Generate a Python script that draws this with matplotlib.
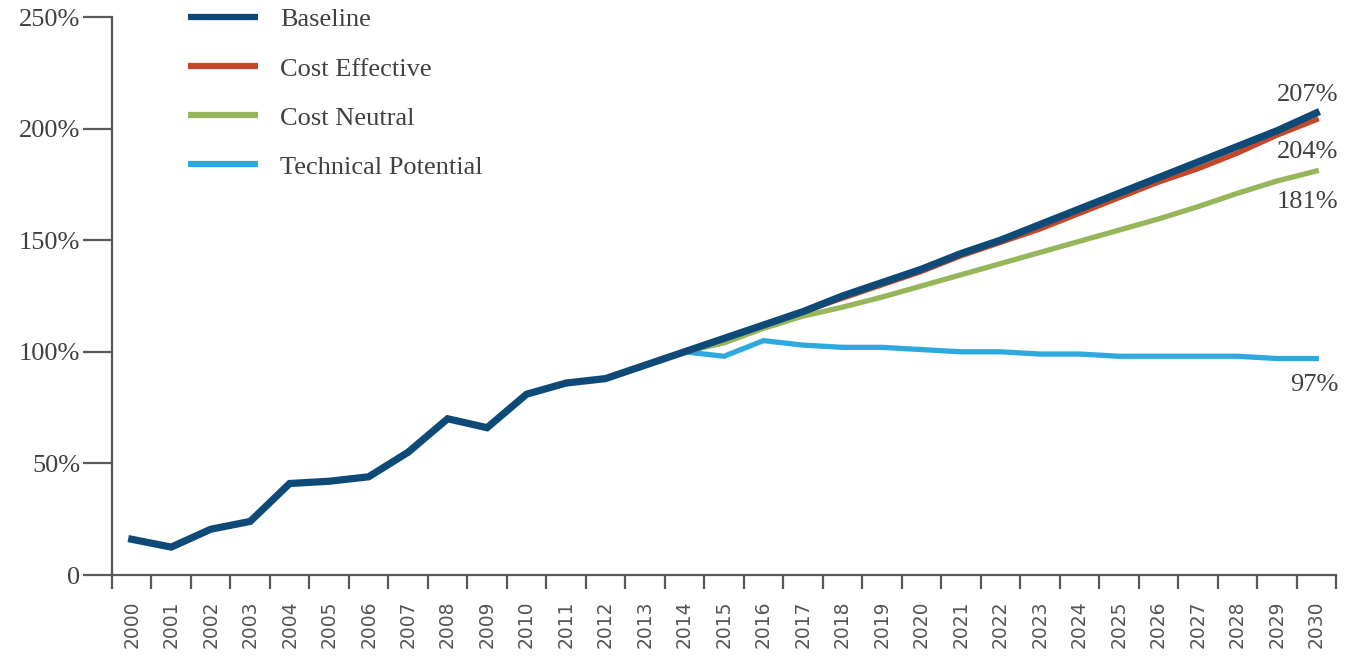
import matplotlib
matplotlib.use("Agg")
import matplotlib.pyplot as plt
import numpy as np

# data (percent of 2014 level)
years = [str(y) for y in range(2000, 2031)]
baseline = [16, 12.5, 20.5, 24, 41, 42, 44, 55, 70, 66, 81, 86, 88, 94, 100,
            106, 112, 118, 125, 131, 137, 144, 150, 157, 164, 171, 178, 185, 192, 199, 207]
# scenario series start in 2014
scenario_years = years[14:]
cost_effective = [100, 106, 112, 118, 124, 130, 136, 143, 149, 155, 162, 169, 176, 182, 189, 197, 204]
cost_neutral = [100, 104, 110.5, 116, 120, 124.5, 129.5, 134.5, 139.5, 144.5, 149.5, 154.5, 159.5, 165, 171, 176.5, 181]
technical = [100, 98, 105, 103, 102, 102, 101, 100, 100, 99, 99, 98, 98, 98, 98, 97, 97]
end_labels = ["207%", "204%", "181%", "97%"]
ytick_vals = [0, 50, 100, 150, 200, 250]
ytick_labels = ["0", "50%", "100%", "150%", "200%", "250%"]

c_base = "#0E4A78"
c_eff = "#C4472A"
c_neu = "#97B55A"
c_tech = "#2EA9E0"
txt = "#404040"
serif = ["Liberation Serif", "DejaVu Serif"]
fs = 19

fig = plt.figure(figsize=(13.56, 6.58), dpi=100)
ax = fig.add_axes([112 / 1356, 1 - 575 / 658, (1336 - 112) / 1356, (575 - 17) / 658])

x_all = np.arange(len(years))
x_sc = np.arange(14, len(years))

ax.plot(x_sc, technical, color=c_tech, lw=3.8, solid_joinstyle="miter", label="Technical Potential", zorder=2)
ax.plot(x_sc, cost_neutral, color=c_neu, lw=3.8, solid_joinstyle="miter", label="Cost Neutral", zorder=3)
ax.plot(x_sc, cost_effective, color=c_eff, lw=3.8, solid_joinstyle="miter", label="Cost Effective", zorder=4)
ax.plot(x_all, baseline, color=c_base, lw=5.2, solid_joinstyle="miter", label="Baseline", zorder=5)

ax.set_xlim(-0.5, len(years) - 0.5)
ax.set_ylim(0, 250)

ax.set_xticks(x_all)
ax.set_xticklabels(years, rotation=90, fontsize=13.5, color="#555555", family="DejaVu Sans")
ax.set_xticks(np.arange(-0.5, len(years)), minor=True)
ax.tick_params(axis="x", which="major", length=0, pad=18)
ax.tick_params(axis="x", which="minor", length=10, width=1.6, color="#595959")

ax.set_yticks(ytick_vals)
ax.set_yticklabels(ytick_labels, fontsize=fs, color=txt, family=serif)
ax.tick_params(axis="y", length=21, width=1.6, color="#595959", pad=2)

for s in ["top", "right"]:
    ax.spines[s].set_visible(False)
for s in ["left", "bottom"]:
    ax.spines[s].set_color("#595959")
    ax.spines[s].set_linewidth(1.6)

# end labels
ends = [(baseline[-1], 13), (cost_effective[-1], -23), (cost_neutral[-1], -22), (technical[-1], -19)]
for lab, (v, dy) in zip(end_labels, ends):
    ax.annotate(lab, xy=(len(years) - 1, v), xytext=(16, dy), textcoords="offset points",
                ha="right", va="center", fontsize=fs, color=txt, family=serif)

handles, labels = ax.get_legend_handles_labels()
order = [3, 2, 1, 0]
leg = ax.legend([handles[i] for i in order], [labels[i] for i in order],
                loc="upper left", bbox_to_anchor=(188 / 1356, 1 - 8 / 658),
                bbox_transform=fig.transFigure, frameon=False, borderpad=0,
                borderaxespad=0, handlelength=2.65, handletextpad=0.83,
                labelspacing=0.97, prop={"family": serif, "size": fs})
for t in leg.get_texts():
    t.set_color(txt)
for h in leg.get_lines():
    h.set_linewidth(4.5)
    h.set_solid_capstyle("butt")

fig.savefig("out.png", dpi=100)
